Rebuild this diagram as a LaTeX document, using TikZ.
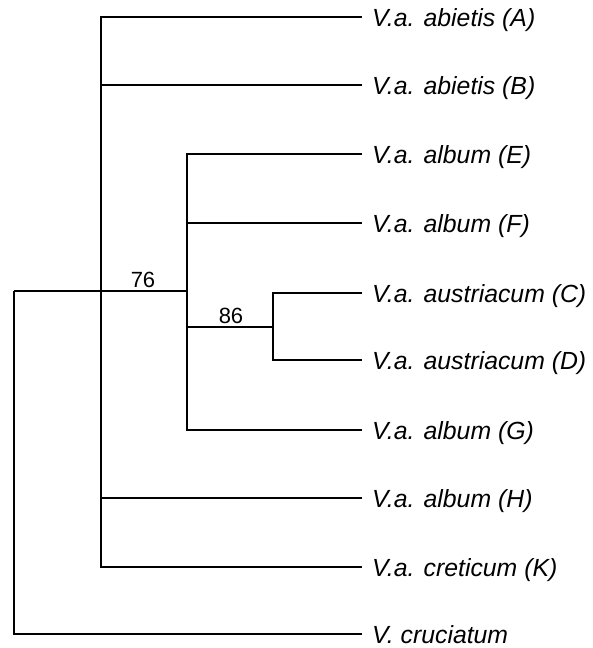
\documentclass[tikz,border=0pt]{standalone}
\usepackage{fontspec}
\setmainfont{Liberation Sans}
\begin{document}
\begin{tikzpicture}[x=1pt,y=-1pt,
  branch/.style={line width=2pt, line join=miter},
  leaf/.style={anchor=base west, inner sep=0pt, font=\fontsize{24.8}{28}\selectfont\itshape},
  support/.style={anchor=base, inner sep=0pt, font=\fontsize{22}{24}\selectfont}]
\useasboundingbox (0,0) rectangle (592,648);
% internal nodes
\coordinate (root) at (14,291);
\coordinate (m) at (101,291);
\coordinate (c) at (187,291);
\coordinate (cd) at (273,327);
% leaf tips
\coordinate (tA) at (362,17);
\coordinate (tB) at (362,85);
\coordinate (tE) at (362,154);
\coordinate (tF) at (362,223);
\coordinate (tC) at (362,293);
\coordinate (tD) at (362,360);
\coordinate (tG) at (362,430);
\coordinate (tH) at (362,498);
\coordinate (tK) at (362,567);
\coordinate (tX) at (362,634);
% leaf labels
\node[leaf] (A) at (372,26) {V.a. abietis (A)};
\node[leaf] (B) at (372,94) {V.a. abietis (B)};
\node[leaf] (E) at (372,163) {V.a. album (E)};
\node[leaf] (F) at (372,232) {V.a. album (F)};
\node[leaf] (C) at (372,302) {V.a. austriacum (C)};
\node[leaf] (D) at (372,369) {V.a. austriacum (D)};
\node[leaf] (G) at (372,439) {V.a. album (G)};
\node[leaf] (H) at (372,507) {V.a. album (H)};
\node[leaf] (K) at (372,576) {V.a. creticum (K)};
\node[leaf] (X) at (372,643) {V. cruciatum};
% branches
\draw[branch] (root) -- (m) -- (c);
\draw[branch] (root) |- (tX);
\draw[branch] (m) |- (tA);
\draw[branch] (m) |- (tB);
\draw[branch] (m) |- (tH);
\draw[branch] (m) |- (tK);
\draw[branch] (c) |- (tE);
\draw[branch] (c) |- (tF);
\draw[branch] (c) |- (tG);
\draw[branch] (c) |- (cd);
\draw[branch] (cd) |- (tC);
\draw[branch] (cd) |- (tD);
% support values
\node[support] (s76) at (143,287) {76};
\node[support] (s86) at (231,323) {86};
\end{tikzpicture}
\end{document}
